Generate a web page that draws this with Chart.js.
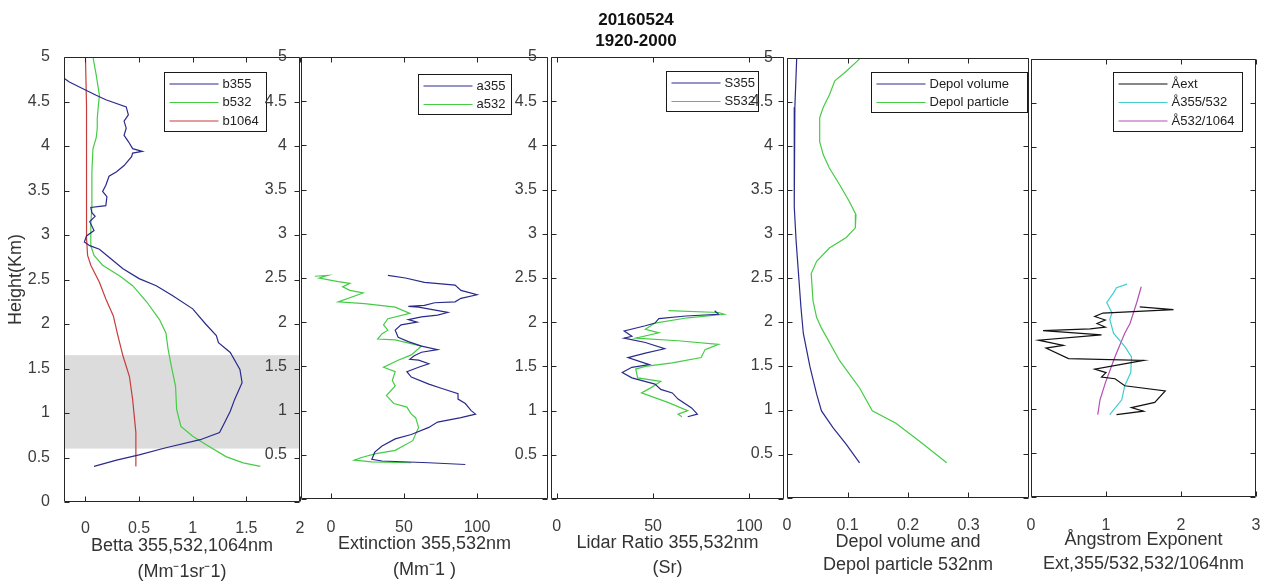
<!DOCTYPE html>
<html lang="en">
<head>
<meta charset="UTF-8">
<title>Lidar profiles 20160524 1920-2000</title>
<script src="https://cdn.jsdelivr.net/npm/chart.js@4.4.1/dist/chart.umd.min.js"></script>
<style>
    html, body { margin: 0; padding: 0; background: #fff; }
    body { width: 1266px; height: 585px; overflow: hidden; position: relative; }
    canvas { position: absolute; top: 0; }
</style>
</head>
<body>
<canvas id="p1"></canvas>
<canvas id="p2"></canvas>
<canvas id="p3"></canvas>
<canvas id="p4"></canvas>
<canvas id="p5"></canvas>
<script>
// heights in km (top to bottom)
const heightTicks = [0, 0.5, 1, 1.5, 2, 2.5, 3, 3.5, 4, 4.5, 5];
const shadeLayer = [0.6, 1.65];

// backscatter (Mm-1 sr-1)
const b355H = [4.76, 4.72, 4.63, 4.57, 4.52, 4.44, 4.35, 4.28, 4.2, 4.12, 4.05, 3.97, 3.94, 3.92, 3.88, 3.78, 3.71, 3.66, 3.56, 3.49, 3.43, 3.33, 3.31, 3.25, 3.21, 3.15, 3.05, 2.99, 2.92, 2.88, 2.84, 2.75, 2.62, 2.51, 2.43, 2.32, 2.17, 2.0, 1.87, 1.79, 1.68, 1.49, 1.34, 1.15, 1.02, 0.85, 0.78, 0.7, 0.61, 0.53, 0.47, 0.4];
const b355V = [-0.2, -0.15, 0.0, 0.1, 0.19, 0.38, 0.4, 0.36, 0.38, 0.36, 0.4, 0.44, 0.53, 0.44, 0.43, 0.36, 0.29, 0.22, 0.19, 0.16, 0.2, 0.19, 0.05, 0.06, 0.09, 0.04, 0.08, 0.01, -0.01, 0.04, 0.13, 0.22, 0.35, 0.5, 0.66, 0.81, 1.0, 1.12, 1.22, 1.24, 1.35, 1.44, 1.46, 1.39, 1.35, 1.28, 1.25, 1.07, 0.75, 0.5, 0.29, 0.08];
const b532H = [5.0, 4.8, 4.57, 4.45, 4.31, 4.2, 4.09, 3.97, 3.71, 3.33, 3.11, 2.88, 2.77, 2.66, 2.54, 2.43, 2.25, 2.05, 1.9, 1.72, 1.53, 1.3, 1.04, 0.85, 0.74, 0.64, 0.51, 0.44, 0.4];
const b532V = [0.07, 0.1, 0.13, 0.12, 0.11, 0.11, 0.1, 0.07, 0.06, 0.06, 0.05, 0.05, 0.08, 0.16, 0.32, 0.44, 0.57, 0.69, 0.75, 0.77, 0.8, 0.84, 0.85, 0.89, 1.0, 1.13, 1.31, 1.47, 1.63];
const b1064H = [5.0, 4.45, 3.71, 2.96, 2.77, 2.66, 2.47, 2.28, 2.09, 1.88, 1.64, 1.41, 1.15, 0.78, 0.4];
const b1064V = [0.0, 0.01, 0.01, 0.01, 0.02, 0.05, 0.13, 0.19, 0.26, 0.3, 0.35, 0.41, 0.44, 0.47, 0.47];

// extinction (Mm-1)
const a355H = [2.53, 2.5, 2.45, 2.42, 2.36, 2.31, 2.27, 2.23, 2.22, 2.19, 2.18, 2.17, 2.11, 2.08, 2.06, 2.03, 2.0, 1.97, 1.91, 1.83, 1.78, 1.73, 1.69, 1.66, 1.62, 1.58, 1.57, 1.53, 1.49, 1.44, 1.38, 1.3, 1.25, 1.19, 1.13, 1.08, 1.0, 0.96, 0.92, 0.87, 0.81, 0.73, 0.68, 0.6, 0.53, 0.45, 0.43, 0.41, 0.39];
const a355V = [39, 51, 64, 85, 89, 100, 89, 85, 71, 64, 53, 60, 80, 73, 62, 53, 59, 48, 44, 46, 53, 62, 73, 62, 57, 54, 60, 67, 60, 52, 55, 67, 76, 87, 87, 92, 96, 99, 89, 73, 67, 55, 44, 35, 30, 28, 35, 67, 92];
const a532H = [2.52, 2.53, 2.5, 2.46, 2.44, 2.4, 2.36, 2.33, 2.23, 2.21, 2.17, 2.1, 2.04, 1.97, 1.91, 1.87, 1.81, 1.8, 1.73, 1.63, 1.57, 1.49, 1.44, 1.34, 1.28, 1.17, 1.08, 1.04, 0.96, 0.92, 0.81, 0.66, 0.55, 0.51, 0.47, 0.44, 0.42, 0.41];
const a532V = [-11, -2, -8, 5, 13, 8, 13, 22, 5, 23, 44, 54, 39, 36, 39, 35, 32, 44, 62, 55, 46, 36, 44, 42, 44, 38, 43, 52, 55, 58, 60, 56, 44, 30, 21, 16, 28, 55];

// lidar ratio (sr)
const s355H = [2.13, 2.09, 2.07, 2.04, 1.99, 1.96, 1.9, 1.84, 1.82, 1.77, 1.7, 1.65, 1.6, 1.52, 1.49, 1.43, 1.37, 1.3, 1.24, 1.2, 1.13, 1.03, 0.96, 0.93];
const s355V = [82, 84, 67, 53, 51, 46, 35, 39, 35, 46, 56, 46, 37, 48, 39, 34, 39, 51, 54, 60, 63, 70, 73, 68];
const s532H = [2.13, 2.11, 2.09, 2.05, 1.99, 1.92, 1.88, 1.82, 1.79, 1.75, 1.69, 1.6, 1.54, 1.5, 1.47, 1.37, 1.33, 1.26, 1.2, 1.09, 1.0, 0.96, 0.93];
const s532V = [58, 84, 87, 68, 51, 46, 53, 41, 63, 84, 77, 75, 60, 46, 41, 42, 54, 49, 44, 58, 68, 63, 65];

// depolarization ratio
const dvolH = [4.99, 4.44, 3.69, 3.31, 2.93, 2.55, 2.17, 1.87, 1.49, 1.18, 0.99, 0.8, 0.61, 0.4];
const dvolV = [0.016, 0.013, 0.012, 0.012, 0.015, 0.019, 0.023, 0.027, 0.038, 0.049, 0.057, 0.076, 0.098, 0.12];
const dparH = [4.99, 4.85, 4.74, 4.58, 4.44, 4.32, 4.05, 3.9, 3.75, 3.56, 3.37, 3.22, 3.07, 2.96, 2.84, 2.69, 2.55, 2.24, 2.05, 1.93, 1.56, 1.25, 0.99, 0.85, 0.65, 0.4];
const dparV = [0.12, 0.098, 0.079, 0.07, 0.06, 0.054, 0.054, 0.06, 0.07, 0.087, 0.103, 0.114, 0.113, 0.098, 0.07, 0.049, 0.04, 0.043, 0.049, 0.057, 0.087, 0.12, 0.141, 0.18, 0.218, 0.264];

// angstrom exponents
const aextH = [2.17, 2.14, 2.1, 2.06, 2.02, 1.98, 1.94, 1.92, 1.9, 1.85, 1.79, 1.73, 1.7, 1.58, 1.56, 1.46, 1.42, 1.37, 1.35, 1.27, 1.21, 1.08, 1.02, 0.98, 0.94];
const aextV = [1.45, 1.9, 0.96, 0.85, 0.99, 0.88, 0.99, 0.79, 0.16, 0.94, 0.1, 0.43, 0.2, 0.5, 1.5, 0.85, 1.0, 0.94, 1.12, 1.25, 1.79, 1.65, 1.34, 1.5, 1.14];
const a355532H = [2.43, 2.39, 2.33, 2.22, 2.1, 2.03, 1.87, 1.72, 1.6, 1.42, 1.27, 1.11, 0.94];
const a355532V = [1.28, 1.14, 1.1, 1.01, 1.08, 1.05, 1.1, 1.25, 1.34, 1.33, 1.25, 1.21, 1.05];
const a5321064H = [2.4, 2.22, 1.98, 1.87, 1.6, 1.3, 1.11, 0.94];
const a5321064V = [1.47, 1.41, 1.32, 1.25, 1.12, 0.99, 0.92, 0.89];

// x tick labels per panel
const betaTicks = [0, 0.5, 1, 1.5, 2];
const extTicks = [0, 50, 100];
const lrTicks = [0, 50, 100];
const depolTicks = [0, 0.1, 0.2, 0.3];
const angTicks = [0, 1, 2, 3];

const FONT = '"Liberation Sans", Arial, Helvetica, sans-serif';
const CANVAS_H = 600;

function pts(hs, vs) {
    return hs.map((h, i) => ({ x: vs[i], y: h }));
}
function line(label, hs, vs, color) {
    return { label: label, data: pts(hs, vs), borderColor: color, backgroundColor: color,
             showLine: true, pointRadius: 0, borderWidth: 1.2, tension: 0 };
}

// matlab style box with inward ticks on all four sides
const boxAxes = {
    id: 'boxAxes',
    afterDraw(chart) {
        const { ctx, chartArea: a, scales: { x, y } } = chart;
        const l = Math.round(a.left) + 0.5, r = Math.round(a.right) - 0.5;
        const t = Math.round(a.top) + 0.5, b = Math.round(a.bottom) - 0.5;
        ctx.save();
        ctx.strokeStyle = '#262626';
        ctx.lineWidth = 1;
        ctx.beginPath();
        ctx.rect(l, t, r - l, b - t);
        x.ticks.forEach(tk => {
            const px = Math.round(x.getPixelForValue(tk.value)) + 0.5;
            ctx.moveTo(px, b); ctx.lineTo(px, b - 5);
            ctx.moveTo(px, t); ctx.lineTo(px, t + 5);
        });
        y.ticks.forEach(tk => {
            const py = Math.round(y.getPixelForValue(tk.value)) + 0.5;
            ctx.moveTo(l, py); ctx.lineTo(l + 5, py);
            ctx.moveTo(r, py); ctx.lineTo(r - 5, py);
        });
        ctx.stroke();
        ctx.restore();
    }
};

// legend box drawn inside the axes, top right
const insideLegend = {
    id: 'insideLegend',
    afterDraw(chart, args, opts) {
        const { ctx, chartArea } = chart;
        const sets = chart.data.datasets;
        const rowH = 18.5;
        const left = Math.round(chartArea.right - opts.right - opts.width) + 0.5;
        const top = Math.round(chartArea.top + opts.top) + 0.5;
        const h = Math.round(sets.length * rowH + 3);
        ctx.save();
        ctx.fillStyle = '#fff';
        ctx.fillRect(left, top, opts.width, h);
        ctx.strokeStyle = '#1a1a1a';
        ctx.lineWidth = 1;
        ctx.strokeRect(left, top, opts.width, h);
        ctx.font = '13px ' + FONT;
        ctx.textBaseline = 'middle';
        sets.forEach((ds, i) => {
            const yy = top + 11.5 + i * rowH;
            ctx.strokeStyle = ds.borderColor;
            ctx.lineWidth = 1.2;
            ctx.beginPath();
            ctx.moveTo(left + 5, yy);
            ctx.lineTo(left + 54, yy);
            ctx.stroke();
            ctx.fillStyle = '#222';
            ctx.fillText(ds.label, left + 58, yy);
        });
        ctx.restore();
    }
};

// grey layer band in the first panel
const shadeBand = {
    id: 'shadeBand',
    beforeDatasetsDraw(chart, args, opts) {
        if (!opts.range) return;
        const { ctx, chartArea: a, scales: { y } } = chart;
        const top = y.getPixelForValue(opts.range[1]);
        const bot = y.getPixelForValue(opts.range[0]);
        ctx.save();
        ctx.fillStyle = '#dcdcdc';
        ctx.fillRect(a.left, top, a.right - a.left, bot - top);
        ctx.restore();
    }
};

function makePanel(p) {
    const cv = document.getElementById(p.id);
    const left = p.L - p.yW;
    cv.width = p.R + p.padR - left;
    cv.height = CANVAS_H;
    cv.style.left = left + 'px';

    const titleOpts = p.title
        ? { display: true, text: p.title, color: '#111', align: 'center',
            font: { family: FONT, size: 17, weight: 'bold', lineHeight: '21px' },
            padding: { top: 9.5, bottom: 5.5 } }
        : { display: false };

    // the lowest height label is hidden behind the neighbouring panel
    const yLabel = v => (p.hideZero && v === 0) ? '' : String(v);

    return new Chart(cv, {
        type: 'scatter',
        data: { datasets: p.datasets },
        options: {
            responsive: false,
            devicePixelRatio: 1,
            animation: false,
            events: [],
            layout: { padding: { left: 0, right: p.padR, top: p.title ? 0 : p.T, bottom: 0 } },
            scales: {
                x: {
                    type: 'linear', min: p.xMin, max: p.xMax,
                    grid: { display: false }, border: { display: false },
                    afterBuildTicks: s => { s.ticks = p.xTicks.map(v => ({ value: v })); },
                    afterFit: s => { s.height = CANVAS_H - p.B; s.paddingLeft = 0; s.paddingRight = 0; },
                    ticks: { autoSkip: false, maxRotation: 0, padding: p.xPad, color: '#3c3c3c',
                             font: { family: FONT, size: 16 }, callback: v => String(v) },
                    title: { display: true, text: p.xTitle, color: '#333',
                             font: { family: FONT, size: 18, lineHeight: p.xLh + 'px' },
                             padding: { top: 0, bottom: p.xTitlePad } }
                },
                y: {
                    type: 'linear', min: 0, max: 5,
                    grid: { display: false }, border: { display: false },
                    afterBuildTicks: s => { s.ticks = heightTicks.map(v => ({ value: v })); },
                    afterFit: s => { s.width = p.yW; s.paddingTop = 0; s.paddingBottom = 0; },
                    ticks: { display: p.yLabels !== false, padding: 6, color: '#3c3c3c',
                             font: { family: FONT, size: 16 }, callback: yLabel },
                    title: p.yTitle
                        ? { display: true, text: p.yTitle, color: '#333',
                            font: { family: FONT, size: 18 }, padding: { top: 5, bottom: 0 } }
                        : { display: false }
                }
            },
            plugins: {
                legend: { display: false },
                tooltip: { enabled: false },
                title: titleOpts,
                insideLegend: p.legend,
                shadeBand: { range: p.band || null }
            }
        },
        plugins: [shadeBand, boxAxes, insideLegend]
    });
}

const NAVY = '#2a2a8c', GREEN = '#45cc45', RED = '#c83c3c';

makePanel({
    id: 'p1', L: 64, yW: 64, R: 300, padR: 10, T: 57, B: 502,
    xMin: -0.2, xMax: 2, xTicks: betaTicks, xPad: 9,
    xTitle: ['Betta 355,532,1064nm', '(Mm\u207B1sr\u207B1)'], xLh: 26, xTitlePad: 15,
    yTitle: 'Height(Km)', band: shadeLayer,
    legend: { right: 34, top: 15, width: 102 },
    datasets: [line('b355', b355H, b355V, NAVY), line('b532', b532H, b532V, GREEN), line('b1064', b1064H, b1064V, RED)]
});

makePanel({
    id: 'p2', L: 301, yW: 42, R: 548, padR: 2, T: 57, B: 499, hideZero: true,
    xMin: -20.5, xMax: 148.6, xTicks: extTicks, xPad: 11,
    xTitle: ['Extinction 355,532nm', '(Mm\u207B1 )'], xLh: 26, xTitlePad: 17,
    legend: { right: 37, top: 17, width: 93 },
    datasets: [line('a355', a355H, a355V, NAVY), line('a532', a532H, a532V, GREEN)]
});

makePanel({
    id: 'p3', L: 551, yW: 63, R: 784, padR: 1, T: 57, B: 499, hideZero: true,
    xMin: -3, xMax: 118, xTicks: lrTicks, xPad: 10,
    xTitle: ['Lidar Ratio 355,532nm', '(Sr)'], xLh: 25, xTitlePad: 19.5,
    title: ['20160524', '1920-2000'],
    legend: { right: 26, top: 14, width: 92 },
    datasets: [line('S355', s355H, s355V, NAVY), line('S532', s532H, s532V, GREEN)]
});

makePanel({
    id: 'p4', L: 787, yW: 42, R: 1029, padR: 1, T: 58, B: 498, hideZero: true,
    xMin: 0, xMax: 0.4, xTicks: depolTicks, xPad: 10,
    xTitle: ['Depol volume and', 'Depol particle 532nm'], xLh: 23.5, xTitlePad: 22.75,
    legend: { right: 2, top: 14, width: 156 },
    datasets: [line('Depol volume', dvolH, dvolV, NAVY), line('Depol particle', dparH, dparV, GREEN)]
});

makePanel({
    id: 'p5', L: 1031, yW: 42, R: 1256, padR: 10, T: 59, B: 497,
    xMin: 0, xMax: 3, xTicks: angTicks, xPad: 10.5, yLabels: false,
    xTitle: ['\u00C5ngstrom Exponent', 'Ext,355/532,532/1064nm'], xLh: 24.5, xTitlePad: 23.25,
    legend: { right: 14, top: 13, width: 129 },
    datasets: [line('\u00C5ext', aextH, aextV, '#111111'),
               line('\u00C5355/532', a355532H, a355532V, '#3fcfcf'),
               line('\u00C5532/1064', a5321064H, a5321064V, '#b34fb3')]
});
</script>
</body>
</html>
